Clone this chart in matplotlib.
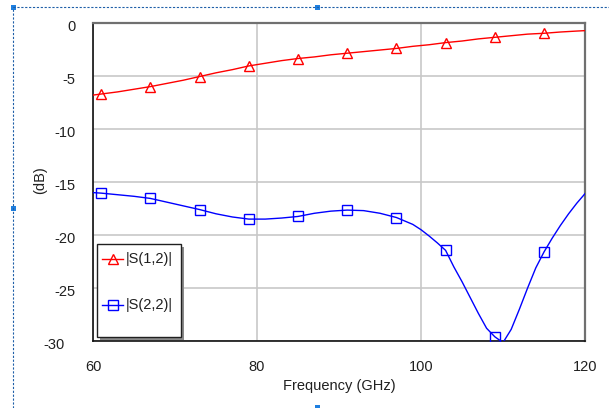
import matplotlib
matplotlib.use("Agg")
import matplotlib.pyplot as plt
from matplotlib.lines import Line2D
from matplotlib.patches import Rectangle
import matplotlib.transforms as mtransforms

plt.rcParams['font.family'] = ['Liberation Sans', 'DejaVu Sans']

# |S(1,2)| trace (dB) sampled along frequency (GHz)
s12_freq = [60, 61, 63, 65, 67, 69, 71, 73, 75, 77, 79, 81, 83, 85, 87, 89, 91,
            93, 95, 97, 99, 101, 103, 105, 107, 109, 111, 113, 115, 117, 119, 120]
s12_db = [-6.8, -6.7, -6.5, -6.25, -6.0, -5.7, -5.4, -5.05, -4.7, -4.4, -4.05,
          -3.8, -3.55, -3.35, -3.2, -3.0, -2.85, -2.7, -2.55, -2.4, -2.2, -2.05,
          -1.85, -1.7, -1.5, -1.35, -1.2, -1.05, -0.97, -0.85, -0.76, -0.72]

# |S(2,2)| trace (dB)
s22_freq = [60, 61, 63, 65, 67, 69, 71, 73, 75, 77, 79, 81, 83, 85, 87, 89, 91,
            93, 95, 97, 99, 100, 101, 102, 103, 104, 105, 106, 107, 108, 109,
            110, 111, 112, 113, 114, 115, 116, 117, 118, 119, 120]
s22_db = [-16.0, -16.05, -16.2, -16.35, -16.55, -16.9, -17.25, -17.6, -18.0,
          -18.3, -18.5, -18.5, -18.4, -18.25, -17.95, -17.75, -17.65, -17.7,
          -17.95, -18.35, -19.0, -19.5, -20.1, -20.75, -21.45, -23.0, -24.4,
          -25.9, -27.4, -28.8, -29.6, -30.15, -28.9, -27.0, -25.0, -23.1, -21.6,
          -20.3, -19.1, -18.0, -17.0, -16.1]

marker_freq = [61, 67, 73, 79, 85, 91, 97, 103, 109, 115]

x_ticks = [60, 80, 100, 120]
y_ticks = [0, -5, -10, -15, -20, -25, -30]

W, H = 609, 408
FS = 10.5
fig = plt.figure(figsize=(W / 100, H / 100), dpi=100)
ax = fig.add_axes([93 / W, 1 - 341 / H, (585 - 93) / W, (341 - 23) / H])

red = '#ff0000'
blue = '#0000ff'

ax.plot(s12_freq, s12_db, color=red, lw=1.0, zorder=3)
ax.plot(s22_freq, s22_db, color=blue, lw=1.0, zorder=3)

s12_mk = [s12_db[s12_freq.index(f)] for f in marker_freq]
s22_mk = [s22_db[s22_freq.index(f)] for f in marker_freq]
ax.plot(marker_freq, s12_mk, ls='none', marker='^', ms=7.5, mfc='none',
        mec=red, mew=1.0, zorder=4)
ax.plot(marker_freq, s22_mk, ls='none', marker='s', ms=7.5, mfc='none',
        mec=blue, mew=1.0, zorder=4)

ax.set_xlim(60, 120)
ax.set_ylim(-30, 0)
ax.set_xticks(x_ticks)
ax.set_yticks(y_ticks)
ax.set_yticklabels([str(v) for v in y_ticks])
ax.grid(True, color='#c8c8c8', lw=1.2)
ax.set_axisbelow(True)
ax.tick_params(length=0, labelsize=FS, colors='#202020')
ax.tick_params(axis='x', pad=13.5)
ax.tick_params(axis='y', pad=12.5)

# y labels sit slightly below their grid lines; the bottom one further out
for i, lab in enumerate(ax.get_yticklabels()):
    dx = -8 / 72 if i == len(y_ticks) - 1 else 0
    lab.set_transform(lab.get_transform()
                      + mtransforms.ScaledTranslation(dx, -1.6 / 72, fig.dpi_scale_trans))

for side in ('left', 'bottom'):
    ax.spines[side].set_color('#101010')
    ax.spines[side].set_linewidth(1.2)
for side in ('top', 'right'):
    ax.spines[side].set_color('#707070')
    ax.spines[side].set_linewidth(1.6)

ax.set_xlabel('Frequency (GHz)', fontsize=FS, labelpad=4, color='#202020')
fig.text(40 / W, 1 - 180 / H, '(dB)', rotation=90, fontsize=FS,
         ha='center', va='center', color='#202020')

# legend box with drop shadow, drawn in pixel coordinates
def px(x, y):
    return (x / W, 1 - y / H)

lx0, ly0, lx1, ly1 = 97, 244, 181, 337
fig.add_artist(Rectangle(px(lx0 + 3, ly1 + 3), (lx1 - lx0) / W, (ly1 - ly0) / H,
                         transform=fig.transFigure, facecolor='#8a8a8a',
                         edgecolor='none', zorder=5))
fig.add_artist(Rectangle(px(lx0, ly1), (lx1 - lx0) / W, (ly1 - ly0) / H,
                         transform=fig.transFigure, facecolor='white',
                         edgecolor='#202020', lw=1.0, zorder=6))
for y, col, mk, label in [(259, red, '^', '|S(1,2)|'), (305, blue, 's', '|S(2,2)|')]:
    (x0, yy), (x1, _) = px(102, y), px(123, y)
    fig.add_artist(Line2D([x0, x1], [yy, yy], color=col, lw=1.0,
                          transform=fig.transFigure, zorder=7))
    mx, my = px(112.5, y)
    fig.add_artist(Line2D([mx], [my], marker=mk, ms=6.5, mfc='none', mec=col,
                          mew=1.0, transform=fig.transFigure, zorder=8))
    tx, ty = px(126, y)
    fig.text(tx, ty, label, fontsize=FS, ha='left', va='center',
             color='#202020', zorder=8)

# dashed selection frame with handles
frame_col = '#1f5fa8'
fig.add_artist(Line2D([13 / W, 1.0], [1 - 7 / H] * 2, color=frame_col, lw=0.8,
                      ls=(0, (2, 1.5)), transform=fig.transFigure))
fig.add_artist(Line2D([13 / W] * 2, [0, 1 - 7 / H], color=frame_col, lw=0.8,
                      ls=(0, (2, 1.5)), transform=fig.transFigure))
for hx, hy in [(13, 7), (317, 7), (13, 208), (317, 407)]:
    fig.add_artist(Rectangle(((hx - 2.5) / W, 1 - (hy + 2.5) / H), 5 / W, 5 / H,
                             transform=fig.transFigure, facecolor='#1e7fe0',
                             edgecolor='none'))

fig.savefig('out.png', dpi=100)
